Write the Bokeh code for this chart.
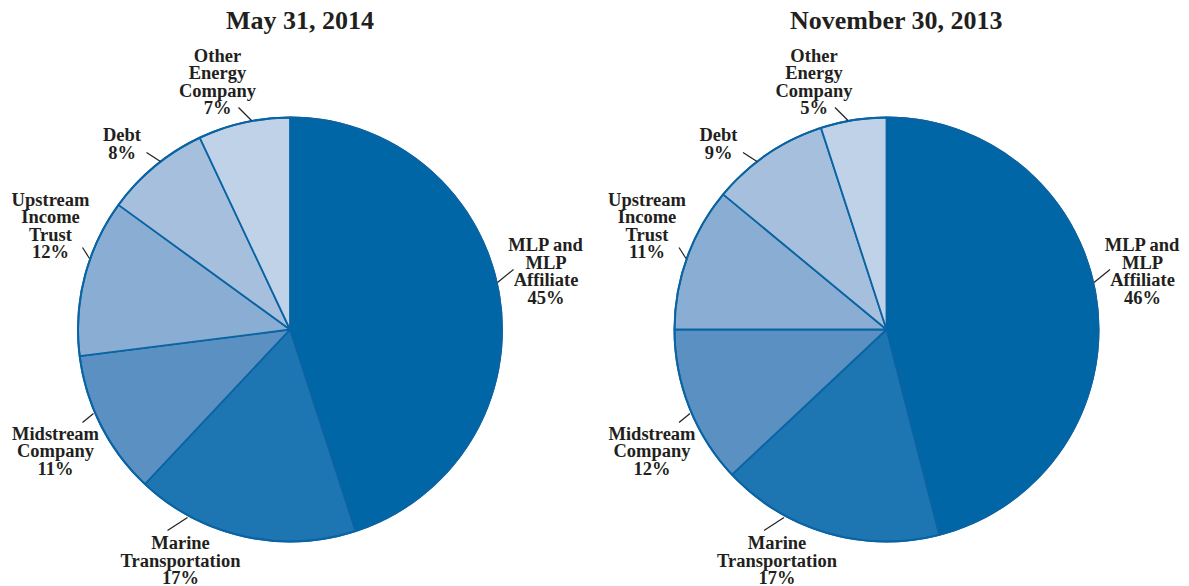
import math
from bokeh.plotting import figure
from bokeh.models import Range1d, ColumnDataSource
from bokeh.core.properties import value
from bokeh.embed import file_html
from bokeh.resources import INLINE

# ---- data ----
categories = ["MLP and\nMLP\nAffiliate", "Marine\nTransportation", "Midstream\nCompany",
              "Upstream\nIncome\nTrust", "Debt", "Other\nEnergy\nCompany"]
may_2014 = [45, 17, 11, 12, 8, 7]
nov_2013 = [46, 17, 12, 11, 9, 5]
titles = ["May 31, 2014", "November 30, 2013"]
colors = ["#0066A6", "#1D76B1", "#5B91C2", "#8AADD4", "#A6BFDD", "#BFD2E8"]

# ---- layout (image pixel coordinates) ----
W, H = 1189, 586
centers_x = [289.5, 886.0]
center_y = 329.0
R = 212.0
FONT = "Liberation Serif"
TXT = "#231F20"
EDGE = "#0A64A4"
LINE_SP = 17.5
# label block centre offsets (dx, dy) relative to pie centre, image coords (dy down)
label_off = [(256, -58), (-109.5, 231), (-234.5, 121.5), (-239.5, -103.5), (-168, -185.5), (-72.5, -247.5)]
# leader lines: (inner dx, dy), (outer dx, dy)
leader_off = [((207.5, -47), (223.5, -60)), ((-102.5, 188), (-122.5, 201)),
              ((-196.5, 84), (-207.5, 93)), ((-200.5, -71), (-207.5, -82)),
              ((-129.5, -168), (-143.5, -177)), ((-38.5, -209), (-51.5, -222))]

def Y(img_y):
    return H - img_y

p = figure(width=W, height=H, x_range=Range1d(0, W), y_range=Range1d(0, H),
           output_backend="svg", toolbar_location=None, min_border=0)
p.axis.visible = False
p.grid.visible = False
p.outline_line_color = None
p.background_fill_color = "white"

for cx, vals, title in zip(centers_x, [may_2014, nov_2013], titles):
    total = float(sum(vals))
    cum = 0.0
    starts, ends = [], []
    for v in vals:
        a0 = math.pi / 2 - 2 * math.pi * cum / total
        cum += v
        a1 = math.pi / 2 - 2 * math.pi * cum / total
        starts.append(a1)
        ends.append(a0)
    src = ColumnDataSource(dict(start=starts, end=ends, color=colors))
    p.wedge(x=cx, y=Y(center_y), radius=R, start_angle="start", end_angle="end",
            fill_color="color", line_color=EDGE, line_width=1.8, source=src)
    p.circle(x=cx, y=Y(center_y), radius=R, fill_color=None, line_color=EDGE, line_width=2)

    # title
    p.text(x=[cx + 10], y=[Y(20)], text=[title], text_font=value(FONT), text_font_style="bold",
           text_font_size="26px", text_color=TXT, text_align="center", text_baseline="middle")

    # labels
    xs, ys, ts = [], [], []
    for cat, v, (dx, dy) in zip(categories, vals, label_off):
        lines = cat.split("\n") + [f"{v}%"]
        n = len(lines)
        for i, t in enumerate(lines):
            xs.append(cx + dx)
            ys.append(Y(center_y + dy + (i - (n - 1) / 2) * LINE_SP))
            ts.append(t)
    p.text(x=xs, y=ys, text=ts, text_font=value(FONT), text_font_style="bold",
           text_font_size="18.5px", text_color=TXT, text_align="center", text_baseline="middle")

    # leader lines
    lx = [[cx + a[0], cx + b[0]] for a, b in leader_off]
    ly = [[Y(center_y + a[1]), Y(center_y + b[1])] for a, b in leader_off]
    p.multi_line(xs=lx, ys=ly, line_color=TXT, line_width=1.2)

open("out.html", "w").write(file_html(p, INLINE))
